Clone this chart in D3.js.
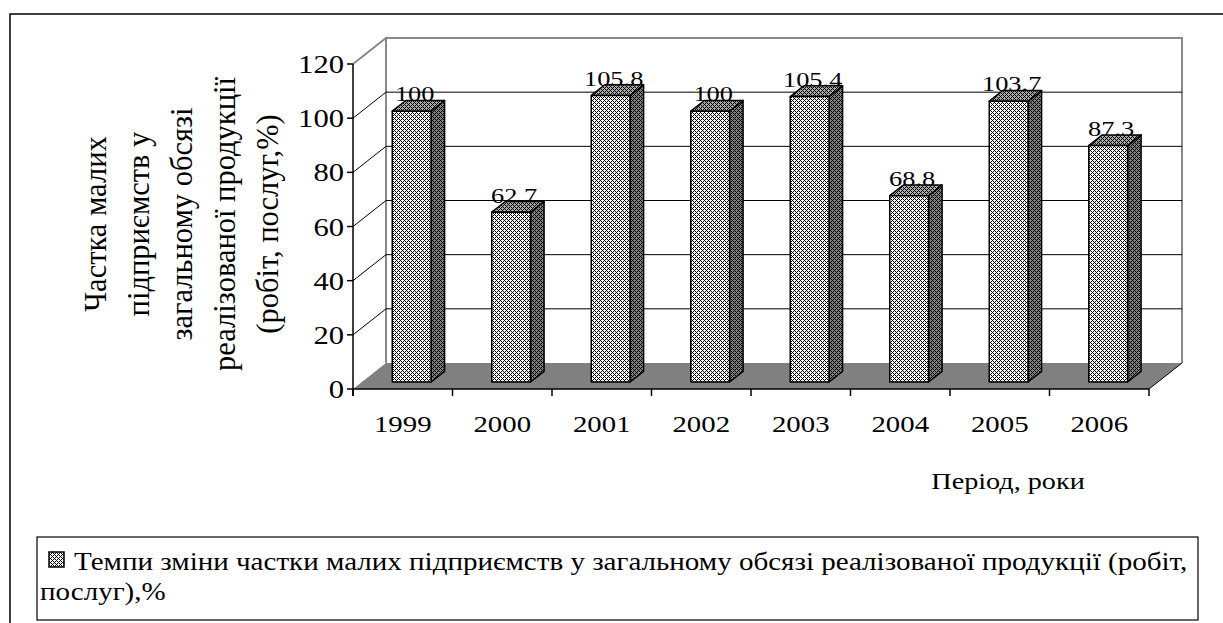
<!DOCTYPE html>
<html>
<head>
<meta charset="utf-8">
<script src="https://cdn.jsdelivr.net/npm/d3@7"></script>
<style>
  html, body { margin: 0; padding: 0; background: #fff; }
  svg { display: block; }
  text { font-family: "Liberation Serif", "Times New Roman", serif; fill: #000; }
</style>
</head>
<body>
<svg id="chart" width="1223" height="623"></svg>
<script>
// Chart data
const years = ["1999", "2000", "2001", "2002", "2003", "2004", "2005", "2006"];
const values = [100, 62.7, 105.8, 100, 105.4, 68.8, 103.7, 87.3];
const yTicks = [0, 20, 40, 60, 80, 100, 120];
const yTitleLines = ["Частка малих", "підприємств у", "загальному обсязі", "реалізованої продукції", "(робіт, послуг,%)"];
const xTitle = "Період, роки";
const legendLines = ["Темпи зміни частки малих підприємств у загальному обсязі реалізованої продукції (робіт,", "послуг),%"];

const svg = d3.select("#chart");

// Plot geometry (front plane) and depth offset of the back wall
const plot = { left: 353, right: 1149, top: 64, bottom: 389 };
const depth = { dx: 33, dy: -26 };
const barDepth = { f0: 0.27, f1: 0.68 };
const stretch = 1.2;

const x = d3.scaleBand().domain(years).range([plot.left, plot.right]).paddingInner(0.61).paddingOuter(0.305);
const y = d3.scaleLinear().domain([0, 120]).range([plot.bottom, plot.top]);

// Fill patterns
const defs = svg.append("defs");
function makePattern(id, bg, fg) {
  const p = defs.append("pattern").attr("id", id).attr("width", 4).attr("height", 4)
    .attr("patternUnits", "userSpaceOnUse");
  p.append("rect").attr("width", 4).attr("height", 4).attr("fill", bg);
  [[0,0],[1,1],[2,2],[3,3],[1,3],[3,1]].forEach(([px, py]) => {
    p.append("rect").attr("x", px).attr("y", py).attr("width", 1).attr("height", 1)
      .attr("fill", fg).attr("shape-rendering", "crispEdges");
  });
}
makePattern("patFront", "#ffffff", "#000000");
makePattern("patSide", "#808080", "#000000");
makePattern("patTop", "#a8a8a8", "#000000");

// Outer frame
svg.append("rect").attr("x", 10).attr("y", 14).attr("width", 1400).attr("height", 800)
  .attr("fill", "#fff").attr("stroke", "#000").attr("stroke-width", 1.5);

// Floor
const y0 = y(0);
svg.append("polygon")
  .attr("points", [[plot.left, y0], [plot.right, y0], [plot.right + depth.dx, y0 + depth.dy], [plot.left + depth.dx, y0 + depth.dy]].map(p => p.join(",")).join(" "))
  .attr("fill", "#808080");
svg.append("line")
  .attr("x1", plot.right).attr("y1", y0).attr("x2", plot.right + depth.dx).attr("y2", y0 + depth.dy)
  .attr("stroke", "#000").attr("stroke-width", 1);

// Back wall edges (grey)
const topY = y(120) + depth.dy;
const wall = svg.append("g").attr("stroke", "#888").attr("stroke-width", 2).attr("fill", "none");
wall.append("polyline").attr("points", [
  [plot.left, y(120)], [plot.left + depth.dx, topY], [plot.right + depth.dx, topY], [plot.right + depth.dx, y0 + depth.dy]
].map(p => p.join(",")).join(" "));
wall.append("line").attr("x1", plot.left + depth.dx).attr("y1", topY)
  .attr("x2", plot.left + depth.dx).attr("y2", y0 + depth.dy);

// Gridlines: diagonal on the side wall, horizontal on the back wall
const grid = svg.append("g").attr("stroke", "#000").attr("stroke-width", 1).attr("fill", "none");
yTicks.filter(t => t > 0 && t < 120).forEach(t => {
  grid.append("polyline").attr("points", [
    [plot.left, y(t)], [plot.left + depth.dx, y(t) + depth.dy], [plot.right + depth.dx, y(t) + depth.dy]
  ].map(p => p.join(",")).join(" "));
});

// Axes
const axisG = svg.append("g").attr("stroke", "#000").attr("stroke-width", 1.5);
axisG.append("line").attr("x1", plot.left).attr("y1", y(120)).attr("x2", plot.left).attr("y2", y0 + 7);
axisG.append("line").attr("x1", plot.left).attr("y1", y0).attr("x2", plot.right).attr("y2", y0);
yTicks.forEach(t => {
  axisG.append("line").attr("x1", plot.left - 6).attr("y1", y(t)).attr("x2", plot.left).attr("y2", y(t));
});
const step = x.step();
d3.range(years.length + 1).forEach(i => {
  const xi = plot.left + i * step;
  axisG.append("line").attr("x1", xi).attr("y1", y0).attr("x2", xi).attr("y2", y0 + 7);
});

// Horizontal text with a slight horizontal stretch
function hText(parent, tx, ty, str, size, anchor) {
  const g = parent.append("g").attr("transform", `translate(${tx},${ty}) scale(${stretch},1)`);
  return g.append("text").attr("text-anchor", anchor).style("font-size", size + "px").text(str);
}

// Y tick labels
const labels = svg.append("g");
yTicks.forEach(t => hText(labels, plot.left - 9, y(t) + 9, String(t), 25.5, "end"));

// X tick labels
years.forEach(yr => hText(labels, x(yr) + x.bandwidth() / 2, 432, yr, 24, "middle"));

// Bars (front, side, top faces)
const bars = svg.append("g").attr("stroke", "#000").attr("stroke-width", 1.5).attr("stroke-linejoin", "round");
years.forEach((yr, i) => {
  const v = values[i];
  const bx0 = x(yr), bx1 = x(yr) + x.bandwidth();
  const ox0 = depth.dx * barDepth.f0, oy0 = depth.dy * barDepth.f0;
  const ox1 = depth.dx * barDepth.f1, oy1 = depth.dy * barDepth.f1;
  const yt = y(v), yb = y(0);
  const pts = a => a.map(p => p.join(",")).join(" ");
  bars.append("polygon").attr("fill", "url(#patSide)").attr("points", pts([
    [bx1 + ox0, yt + oy0], [bx1 + ox1, yt + oy1], [bx1 + ox1, yb + oy1], [bx1 + ox0, yb + oy0]
  ]));
  bars.append("polygon").attr("fill", "url(#patTop)").attr("points", pts([
    [bx0 + ox0, yt + oy0], [bx0 + ox1, yt + oy1], [bx1 + ox1, yt + oy1], [bx1 + ox0, yt + oy0]
  ]));
  bars.append("rect").attr("fill", "url(#patFront)")
    .attr("x", bx0 + ox0).attr("y", yt + oy0).attr("width", bx1 - bx0).attr("height", yb - yt);
  // value label
  hText(labels, (bx0 + bx1) / 2 + ox0 + 3, yt + oy1 + 1, String(v), 22, "middle");
});

// Y axis title (rotated, multi-line)
const yTitle = svg.append("g").attr("transform", "translate(96,224) rotate(-90)");
yTitleLines.forEach((ln, i) => {
  yTitle.append("text").attr("x", 0).attr("y", i * 43)
    .attr("text-anchor", "middle").attr("dominant-baseline", "central")
    .style("font-size", "30.5px").text(ln);
});

// X axis title
hText(labels, 1008, 489, xTitle, 23.5, "middle");

// Legend
const lg = svg.append("g");
lg.append("rect").attr("x", 37).attr("y", 537).attr("width", 1161).attr("height", 83)
  .attr("fill", "#fff").attr("stroke", "#000").attr("stroke-width", 1.2);
lg.append("rect").attr("x", 49).attr("y", 552).attr("width", 15).attr("height", 15)
  .attr("fill", "url(#patFront)").attr("stroke", "#000").attr("stroke-width", 1.5);
hText(lg, 74, 570, legendLines[0], 24.2, "start");
hText(lg, 40, 600, legendLines[1], 24.2, "start");
</script>
</body>
</html>
